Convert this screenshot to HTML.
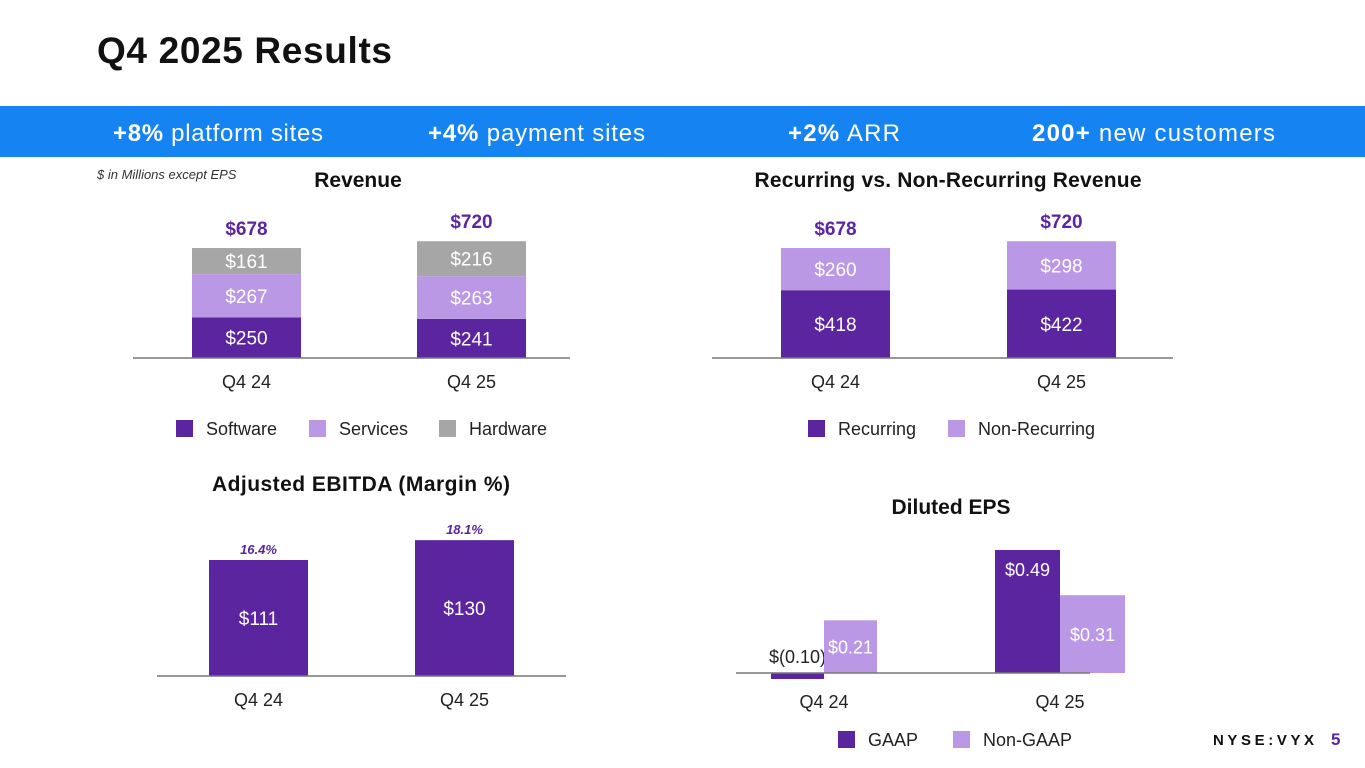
<!DOCTYPE html>
<html><head><meta charset="utf-8"><style>
body{margin:0;width:1365px;height:768px;background:#fff;overflow:hidden;font-family:"Liberation Sans",sans-serif}
svg{display:block}
</style></head><body>
<svg id="s" width="1365" height="768" font-family="Liberation Sans, sans-serif">
<text x="97" y="63" font-size="37" font-weight="bold" fill="#111" textLength="295">Q4 2025 Results</text>
<rect x="0" y="106" width="1365" height="51" fill="#1683F3"/>
<g fill="#fff" font-size="24">
<text x="113" y="141" textLength="210"><tspan font-weight="bold">+8%</tspan> platform sites</text>
<text x="428" y="141" textLength="217"><tspan font-weight="bold">+4%</tspan> payment sites</text>
<text x="788" y="141" textLength="112"><tspan font-weight="bold">+2%</tspan> ARR</text>
<text x="1032" y="141" textLength="243"><tspan font-weight="bold">200+</tspan> new customers</text>
</g>
<text x="97" y="179" font-size="13" font-style="italic" fill="#333">$ in Millions except EPS</text>
<g font-size="21" font-weight="bold" fill="#111" text-anchor="middle">
<text x="358" y="187">Revenue</text>
<text x="948" y="187" textLength="387">Recurring vs. Non-Recurring Revenue</text>
<text x="361" y="491" textLength="298">Adjusted EBITDA (Margin %)</text>
<text x="951" y="514">Diluted EPS</text>
</g>
<text x="1213" y="745" font-size="15" font-weight="bold" letter-spacing="3.6" fill="#111">NYSE:VYX</text>
<text x="1331" y="745" font-size="17" font-weight="bold" fill="#5B25A0">5</text>
<g id="charts"></g>
</svg>
<script>
const categories = ["Q4 24", "Q4 25"];
const software = [250, 241];
const services = [267, 263];
const hardware = [161, 216];
const revTotals = [678, 720];
const recurring = [418, 422];
const nonRecurring = [260, 298];
const recTotals = [678, 720];
const ebitda = [111, 130];
const ebitdaMargin = ["16.4%", "18.1%"];
const epsGaap = [-0.10, 0.49];
const epsNonGaap = [0.21, 0.31];

const DARK="#5B25A0", LIGHT="#BB98E6", GRAY="#A6A6A6";
const NS="http://www.w3.org/2000/svg";
const root=document.getElementById('charts');
function mk(tag,attrs,parent){const e=document.createElementNS(NS,tag);for(const k in attrs)e.setAttribute(k,attrs[k]);(parent||root).appendChild(e);return e;}
function txt(x,y,s,attrs,parent){const t=mk('text',Object.assign({x:x,y:y,'text-anchor':'middle'},attrs||{}),parent);t.textContent=s;return t;}
const money=v=>'$'+v;
const eps=v=>v<0?'$('+Math.abs(v).toFixed(2)+')':'$'+v.toFixed(2);

function stacked(cfg){
  const g=mk('g',{});
  
  
  const y=v=>cfg.base-v*cfg.scale;
  categories.forEach((c,i)=>{
    const x=cfg.xs[i];let acc=0;
    cfg.series.forEach((s,j)=>{
      const v=s.values[i];
      const r=mk('rect',{x:x,y:y(acc+v),width:cfg.w,height:v*cfg.scale,fill:s.color},g);
      
      
      txt(x+cfg.w/2,y(acc+v/2)+7,money(v),{fill:'#fff','font-size':19},g);
      acc+=v;
    });
    const t=txt(x+cfg.w/2,y(cfg.totals[i])-13,money(cfg.totals[i]),{fill:DARK,'font-size':19,'font-weight':'bold'},g);
    
    
    txt(x+cfg.w/2,cfg.base+30,c,{fill:'#222','font-size':18},g);
  });
  mk('line',{x1:cfg.axis[0],x2:cfg.axis[1],y1:cfg.base,y2:cfg.base,stroke:'#777','stroke-width':1.5},g);
  cfg.legend.forEach((l,k)=>{
    const le=mk('g',{},g);
    
    
    mk('rect',{x:l.x,y:cfg.legY-8,width:17,height:17,fill:l.color},le);
    txt(l.x+30,cfg.legY+7,l.label,{'text-anchor':'start','font-size':18,fill:'#222'},le);
  });
}
stacked({name:'revenue-chart',base:358,scale:0.1622,xs:[192,417],w:109,axis:[133,570],totals:revTotals,legY:428,
  series:[{key:'software',values:software,color:DARK},{key:'services',values:services,color:LIGHT},{key:'hardware',values:hardware,color:GRAY}],
  legend:[{key:'software',label:'Software',x:176,color:DARK},{key:'services',label:'Services',x:309,color:LIGHT},{key:'hardware',label:'Hardware',x:439,color:GRAY}]});
stacked({name:'recurring-chart',base:358,scale:0.1622,xs:[781,1007],w:109,axis:[712,1173],totals:recTotals,legY:428,
  series:[{key:'recurring',values:recurring,color:DARK},{key:'non-recurring',values:nonRecurring,color:LIGHT}],
  legend:[{key:'recurring',label:'Recurring',x:808,color:DARK},{key:'non-recurring',label:'Non-Recurring',x:948,color:LIGHT}]});

// EBITDA
(function(){
  const g=mk('g',{});
  
  
  const base=676,scale=1.045,xs=[209,415],w=99;
  const y=v=>base-v*scale;
  categories.forEach((c,i)=>{
    const v=ebitda[i];
    const r=mk('rect',{x:xs[i],y:y(v),width:w,height:v*scale,fill:DARK},g);
    
    
    txt(xs[i]+w/2,y(v/2)+7,money(v),{fill:'#fff','font-size':19},g);
    txt(xs[i]+w/2,y(v)-6,ebitdaMargin[i],{fill:DARK,'font-size':13,'font-weight':'bold','font-style':'italic'},g);
    txt(xs[i]+w/2,base+30,c,{fill:'#222','font-size':18},g);
  });
  mk('line',{x1:157,x2:566,y1:base,y2:base,stroke:'#777','stroke-width':1.5},g);
})();

// EPS
(function(){
  const g=mk('g',{});
  
  
  const base=673,scale=251,negScale=60,gx=[771,995],w=[53,65];
  const y=v=>v>=0?base-v*scale:base-v*negScale;
  categories.forEach((c,i)=>{
    const ww=w[i];
    const gv=epsGaap[i], nv=epsNonGaap[i];
    const r=mk('rect',{x:gx[i],y:Math.min(y(gv),base),width:ww,height:Math.abs(y(gv)-base),fill:DARK},g);
    
    
    if(gv<0) txt(gx[i]+ww/2,base-10,eps(gv),{fill:'#222','font-size':18},g);
    else txt(gx[i]+ww/2,y(gv)+26,eps(gv),{fill:'#fff','font-size':18},g);
    const nx=gx[i]+ww;
    const r2=mk('rect',{x:nx,y:y(nv),width:ww,height:nv*scale,fill:LIGHT},g);
    
    
    txt(nx+ww/2,y(nv/2)+7,eps(nv),{fill:'#fff','font-size':18},g);
    txt(nx,base+35,c,{fill:'#222','font-size':18},g);
  });
  mk('line',{x1:736,x2:1090,y1:base,y2:base,stroke:'#777','stroke-width':1.5},g);
  [{key:'gaap',label:'GAAP',x:838,color:DARK},{key:'non-gaap',label:'Non-GAAP',x:953,color:LIGHT}].forEach(l=>{
    const le=mk('g',{},g);
    
    
    mk('rect',{x:l.x,y:731,width:17,height:17,fill:l.color},le);
    txt(l.x+30,746,l.label,{'text-anchor':'start','font-size':18,fill:'#222'},le);
  });
})();
</script>
</body></html>
